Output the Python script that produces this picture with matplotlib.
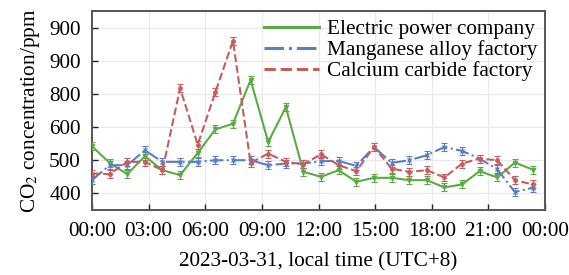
import numpy as np
import matplotlib
matplotlib.use('Agg')
import matplotlib.pyplot as plt
from matplotlib.lines import Line2D

plt.rcParams['font.family'] = ['Liberation Serif', 'DejaVu Serif']
plt.rcParams['mathtext.fontset'] = 'stix'

# sample times in hours (about 56 min apart)
hours = np.arange(26) * 56 / 60.0

electric = [542, 492, 458, 512, 470, 455, 522, 593, 610, 742, 555, 660, 465,
            450, 470, 435, 447, 447, 440, 440, 418, 427, 467, 448, 493, 472]
manganese = [440, 485, 485, 530, 495, 495, 495, 500, 500, 500, 485, 490, 490,
             497, 498, 483, 540, 492, 500, 515, 540, 528, 505, 473, 404, 417]
calcium = [460, 458, 495, 495, 470, 717, 547, 705, 860, 492, 520, 495, 488,
           518, 485, 467, 540, 475, 465, 470, 448, 490, 505, 500, 440, 427]
err = 12

names = ['Electric power company', 'Manganese alloy factory', 'Calcium carbide factory']
colors = ['#5aab46', '#5b7ec9', '#c65d5d']
styles = ['-', '-.', '--']
markers = ['v', 'x', 'o']

yticks = [400, 500, 600, 700, 800, 900]
ytick_labels = ['400', '500', '600', '800', '900', '900']
xticks = [0, 3, 6, 9, 12, 15, 18, 21, 24]
xtick_labels = ['00:00', '03:00', '06:00', '09:00', '12:00', '15:00', '18:00', '21:00', '00:00']

fs = 15.3
fig = plt.figure(figsize=(5.69, 2.75), dpi=100)
ax = fig.add_axes([0.1617, 0.2364, 0.7963, 0.7236])

for vals, c, ls, m in zip([electric, manganese, calcium], colors, styles, markers):
    ax.errorbar(hours, vals, yerr=err, color=c, ls=ls, lw=1.5,
                marker=m, ms=3 if m != 'o' else 2.5, capsize=2.5,
                elinewidth=0.8, capthick=0.8, zorder=3)

ax.set_xlim(0, 24)
ax.set_ylim(350, 950)
ax.set_xticks(xticks)
ax.set_xticklabels(xtick_labels)
ax.set_yticks(yticks)
ax.set_yticklabels(ytick_labels)
ax.tick_params(axis='both', direction='in', length=4, width=1, labelsize=fs, color='#222222')
ax.tick_params(axis='x', pad=9)
ax.tick_params(axis='y', pad=8)
ax.grid(True, color='#e8e8e8', lw=0.8, zorder=0)
for s in ax.spines.values():
    s.set_color('#555555')
    s.set_linewidth(1.4)

ax.set_xlabel('2023-03-31, local time (UTC+8)', fontsize=fs, labelpad=8)
ax.set_ylabel(r'CO$_2$ concentration/ppm', fontsize=fs, labelpad=5)

handles = [Line2D([], [], color=c, ls=ls, lw=2.2) for c, ls in zip(colors, styles)]
ax.legend(handles, names, loc='upper left', bbox_to_anchor=(0.36, 1.0), frameon=False,
          fontsize=fs, handlelength=2.6, labelspacing=0.05,
          handletextpad=0.4, borderaxespad=0)

fig.savefig('out.png', dpi=100)
